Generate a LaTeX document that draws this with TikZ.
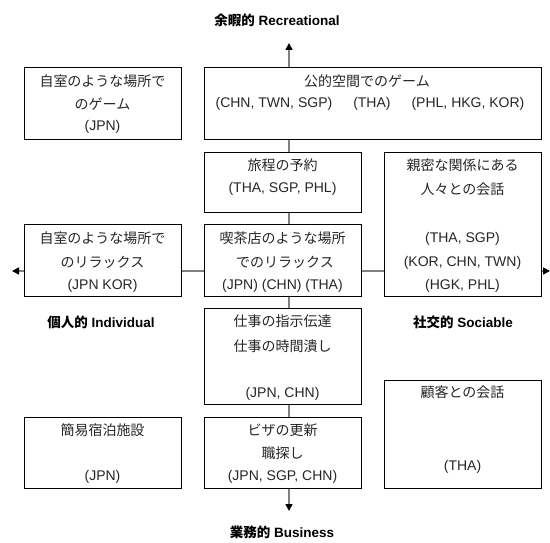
\documentclass[tikz,border=0pt]{standalone}
\usepackage{fontspec}
\setmainfont{Liberation Sans}
\newfontfamily\jpfont{Noto Sans CJK JP}
\newcommand\jtext[1]{{\jpfont #1}}
\usetikzlibrary{arrows.meta}
\definecolor{axisgray}{HTML}{808080}
\tikzset{
  box/.style={draw=black, line width=0.8pt, fill=white, inner sep=0pt},
  ln/.style={font=\fontsize{14}{16}\selectfont, inner sep=0pt, text height=10pt,
    text depth=3pt, text=black!85},
  jl/.style={ln, yshift=-1.5pt},
  axis/.style={draw=axisgray, line width=1.6pt,
    {Triangle[length=7pt,width=7pt,color=black]}-{Triangle[length=7pt,width=7pt,color=black]}},
  title/.style={font=\fontsize{13.5}{16}\selectfont\bfseries, inner sep=0pt}
}
\begin{document}
\begin{tikzpicture}[x=1pt,y=-1pt]
\useasboundingbox (0,0) rectangle (550,543);
% axes endpoints
\coordinate (up) at (289,43);
\coordinate (down) at (289,511);
\coordinate (left) at (12,271);
\coordinate (right) at (550,271);
\draw[axis] (up) -- (down);
\draw[axis] (left) -- (right);
% titles
\node[title] (trec) at (277,20) {\jtext{余暇的} Recreational};
\node[title] (tind) at (101,322) {\jtext{個人的} Individual};
\node[title] (tsoc) at (463,322) {\jtext{社交的} Sociable};
\node[title] (tbus) at (282,532) {\jtext{業務的} Business};
% boxes
\node[box, minimum width=157pt, minimum height=72pt] (A) at (102.5,103) {};
\node[box, minimum width=337pt, minimum height=72pt] (B) at (372.5,103) {};
\node[box, minimum width=157pt, minimum height=60pt] (C) at (282.5,182) {};
\node[box, minimum width=157pt, minimum height=144pt] (D) at (462.5,224) {};
\node[box, minimum width=157pt, minimum height=72pt] (E) at (102.5,260) {};
\node[box, minimum width=157pt, minimum height=72pt] (F) at (282.5,260) {};
\node[box, minimum width=157pt, minimum height=96pt] (G) at (282.5,356) {};
\node[box, minimum width=157pt, minimum height=108pt] (H) at (462.5,434) {};
\node[box, minimum width=157pt, minimum height=71pt] (I) at (102.5,452.5) {};
\node[box, minimum width=157pt, minimum height=71pt] (J) at (282.5,452.5) {};
% box texts
\node[jl] (A1) at (102.5,82) {\jtext{自室のような場所で}};
\node[jl] (A2) at (102.5,104.5) {\jtext{のゲーム}};
\node[ln] (A3) at (102.5,127) {(JPN)};
\node[jl] (B1) at (367,82) {\jtext{公的空間でのゲーム}};
\node[ln] (B2) at (370,104.5) {(CHN, TWN, SGP)\hspace{21pt}(THA)\hspace{21pt}(PHL, HKG, KOR)};
\node[jl] (C1) at (282.5,165.5) {\jtext{旅程の予約}};
\node[ln] (C2) at (282.5,189.5) {(THA, SGP, PHL)};
\node[jl] (D1) at (462.5,165.5) {\jtext{親密な関係にある}};
\node[jl] (D2) at (462.5,189) {\jtext{人々との会話}};
\node[ln] (D3) at (462.5,239.5) {(THA, SGP)};
\node[ln] (D4) at (462.5,263) {(KOR, CHN, TWN)};
\node[ln] (D5) at (462.5,286.5) {(HGK, PHL)};
\node[jl] (E1) at (102.5,238.5) {\jtext{自室のような場所で}};
\node[jl] (E2) at (102.5,262) {\jtext{のリラックス}};
\node[ln] (E3) at (102.5,286.5) {(JPN KOR)};
\node[jl] (F1) at (282.5,238.5) {\jtext{喫茶店のような場所}};
\node[jl] (F2) at (285,262) {\jtext{でのリラックス}};
\node[ln] (F3) at (282.5,286.5) {(JPN) (CHN) (THA)};
\node[jl] (G1) at (282.5,321) {\jtext{仕事の指示伝達}};
\node[jl] (G2) at (282.5,346) {\jtext{仕事の時間潰し}};
\node[ln] (G3) at (282.5,393.5) {(JPN, CHN)};
\node[jl] (H1) at (462.5,392.5) {\jtext{顧客との会話}};
\node[ln] (H2) at (462.5,466.5) {(THA)};
\node[jl] (I1) at (102.5,430.5) {\jtext{簡易宿泊施設}};
\node[ln] (I2) at (102.5,477) {(JPN)};
\node[jl] (J1) at (282.5,430.5) {\jtext{ビザの更新}};
\node[jl] (J2) at (282.5,453.5) {\jtext{職探し}};
\node[ln] (J3) at (282.5,477) {(JPN, SGP, CHN)};
\end{tikzpicture}
\end{document}
